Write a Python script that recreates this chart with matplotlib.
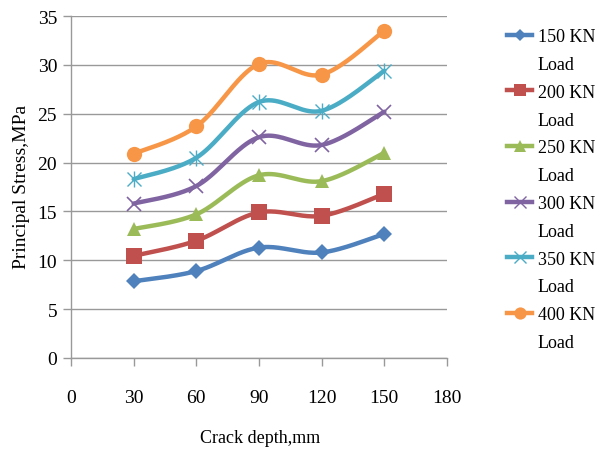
import numpy as np
import matplotlib
matplotlib.use("Agg")
import matplotlib.pyplot as plt
from matplotlib.lines import Line2D

# ---- data ----
crack_depth = [30, 60, 90, 120, 150]
load_150 = [7.85, 8.9, 11.3, 10.8, 12.7]
load_200 = [10.45, 12.0, 14.9, 14.55, 16.8]
load_250 = [13.2, 14.7, 18.7, 18.1, 21.0]
load_300 = [15.8, 17.6, 22.6, 21.8, 25.2]
load_350 = [18.3, 20.5, 26.2, 25.3, 29.4]
load_400 = [20.9, 23.7, 30.1, 29.0, 33.5]
series_labels = ["150 KN Load", "200 KN Load", "250 KN Load",
                 "300 KN Load", "350 KN Load", "400 KN Load"]
x_ticks = [0, 30, 60, 90, 120, 150, 180]
y_ticks = [0, 5, 10, 15, 20, 25, 30, 35]

series = [load_150, load_200, load_250, load_300, load_350, load_400]
colors = ["#4F81BD", "#C0504D", "#9BBB59", "#8064A2", "#4BACC6", "#F79646"]
markers = ["D", "s", "^", "x", "*", "o"]
msizes = [8, 11, 10, 10, 11, 11]


def smooth(xs, ys, n=40):
    """Excel-like smoothed line through points (cubic Bezier segments)."""
    P = np.column_stack([xs, ys]).astype(float)
    Pe = np.vstack([P[0], P, P[-1]])
    out = []
    t = np.linspace(0, 1, n)[:, None]
    for i in range(len(P) - 1):
        p0 = Pe[i + 1]
        p3 = Pe[i + 2]
        c1 = p0 + (Pe[i + 2] - Pe[i]) / 6.0
        c2 = p3 - (Pe[i + 3] - Pe[i + 1]) / 6.0
        seg = ((1 - t) ** 3) * p0 + 3 * ((1 - t) ** 2) * t * c1 + 3 * (1 - t) * t ** 2 * c2 + t ** 3 * p3
        out.append(seg if i == 0 else seg[1:])
    S = np.vstack(out)
    return S[:, 0], S[:, 1]


plt.rcParams['font.family'] = ['Liberation Serif', 'DejaVu Serif']

fig = plt.figure(figsize=(6.03, 4.56), dpi=100)
ax = fig.add_axes([71 / 603, 1 - 359 / 456, (447 - 71) / 603, (359 - 17) / 456])

for ys, c, m, ms in zip(series, colors, markers, msizes):
    sx, sy = smooth(crack_depth, ys)
    ax.plot(sx, sy, color=c, lw=3.2, solid_capstyle='round', zorder=3)
    if m == "*":
        # asterisk-like marker: x plus vertical bar
        ax.plot(crack_depth, ys, ls='none', marker='x', ms=10, mew=1.0, color=c, zorder=4)
        ax.plot(crack_depth, ys, ls='none', marker='|', ms=11, mew=1.0, color=c, zorder=4)
    else:
        ax.plot(crack_depth, ys, ls='none', marker=m, ms=ms, mew=1.2 if m == "x" else 0,
                color=c, zorder=4)

ax.set_xlim(0, 180)
ax.set_ylim(0, 35)
ax.set_xticks(x_ticks)
ax.set_yticks(y_ticks)
ax.yaxis.grid(True, color="#999999", lw=1.0)
ax.set_axisbelow(True)
for s in ("top", "right"):
    ax.spines[s].set_visible(False)
for s in ("left", "bottom"):
    ax.spines[s].set_color("#999999")
    ax.spines[s].set_linewidth(1.0)
ax.tick_params(axis='both', colors="#999999", length=6, width=1.0, labelcolor="black",
               labelsize=14)
ax.tick_params(axis='x', pad=16)
ax.tick_params(axis='y', pad=4)

fig.text(260 / 603, 1 - 439 / 456, "Crack depth,mm", ha='center', va='center', fontsize=13)
fig.text(22 / 603, 1 - 187 / 456, "Principal Stress,MPa", ha='center', va='center',
         rotation=90, fontsize=14)

# legend: each series label shown in two lines
handles, labels = [], []
for lab, c, m, ms in zip(series_labels, colors, markers, msizes):
    first, second = lab.rsplit(" ", 1)
    mk = "x" if m == "*" else m
    handles.append(Line2D([0], [0], color=c, lw=3.2, marker=mk, ms=ms * 0.8,
                          mew=1.0 if mk == "x" else 0))
    labels.append(first)
    handles.append(Line2D([0], [0], color='none', lw=0))
    labels.append(second)

fig.legend(handles, labels, loc='upper left', bbox_to_anchor=(507 / 603, 1 - 29 / 456),
           frameon=False, fontsize=13, handlelength=1.4, handletextpad=0.3,
           labelspacing=0.6, borderpad=0, borderaxespad=0)

fig.savefig("out.png", dpi=100)
